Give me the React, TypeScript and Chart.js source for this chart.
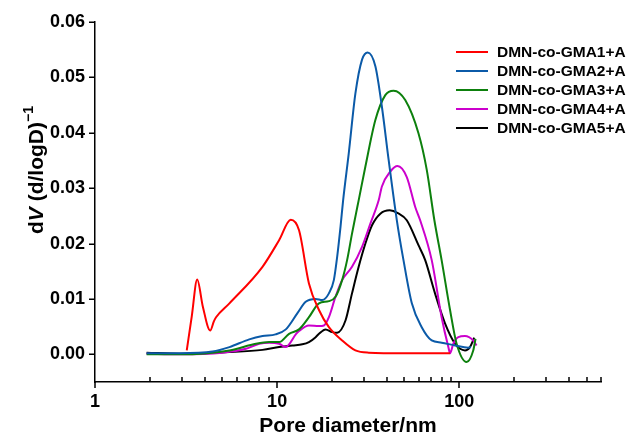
import React, { useEffect, useRef } from "react";
import { Chart, registerables } from "chart.js";

Chart.register(...registerables);

const FONT = "'Liberation Sans', Arial, Helvetica, sans-serif";

const SERIES_NAMES = ["DMN-co-GMA1+A", "DMN-co-GMA2+A", "DMN-co-GMA3+A", "DMN-co-GMA4+A", "DMN-co-GMA5+A"];
const SERIES_COLORS = ["#ff0000", "#0b5aa8", "#0d800d", "#cc00cc", "#000000"];

const GMA1_D = [3.19, 3.40, 3.64, 3.91, 4.29, 4.50, 4.62, 5.47, 8.31, 10.25, 11.88, 13.19, 14.95, 16.97, 19.24, 22.74, 26.9, 31.8, 50, 89];
const GMA1_V = [0.0007, 0.0069, 0.0135, 0.0086, 0.0043, 0.0060, 0.0067, 0.0092, 0.0158, 0.0206, 0.0243, 0.0224, 0.0128, 0.0080, 0.0049, 0.0025, 0.0007, 0.0003, 0.0002, 0.0002];

const GMA2_D = [1.92, 2.91, 4.42, 5.47, 7.03, 8.31, 9.8, 11.16, 12.9, 14.35, 16.27, 17.69, 19.24, 20.48, 21.36, 22.28, 23.03, 24.73, 26.9, 29.25, 31.42, 34.62, 37.6, 40.95, 45.42, 49.4, 54.9, 62.2, 70.6, 80, 94.8, 112, 116];
const GMA2_V = [0.0002, 0.0002, 0.0005, 0.0013, 0.0027, 0.0033, 0.0036, 0.0045, 0.0074, 0.0095, 0.0100, 0.0098, 0.0110, 0.0134, 0.0176, 0.0230, 0.0278, 0.0363, 0.0471, 0.0532, 0.0545, 0.0520, 0.0447, 0.0351, 0.0242, 0.0170, 0.0092, 0.0049, 0.0025, 0.0021, 0.0016, 0.0012, 0.0013];

const GMA3_D = [1.92, 2.91, 5.47, 7.65, 9.04, 10.25, 11.63, 13.19, 14.95, 16.97, 19.24, 20.92, 22.74, 24.22, 25.77, 27.1, 28.03, 30.52, 34.62, 39.25, 43.58, 50.5, 59.7, 66.3, 73.0, 80.0, 89.0, 96.7, 109.7, 119.3, 122.8];
const GMA3_V = [0.0000, 0.0000, 0.0007, 0.0019, 0.0022, 0.0022, 0.0037, 0.0045, 0.0067, 0.0092, 0.0096, 0.0104, 0.0134, 0.0170, 0.0218, 0.0254, 0.0278, 0.0339, 0.0423, 0.0468, 0.0476, 0.0459, 0.0399, 0.0333, 0.0242, 0.0170, 0.0080, 0.0019, -0.0014, 0.0007, 0.0028];

const GMA4_D = [1.92, 2.91, 5.0, 6.74, 7.97, 9.04, 10.25, 11.16, 11.63, 12.65, 13.19, 14.95, 16.97, 18.07, 19.24, 20.92, 22.74, 25.77, 29.25, 32.5, 36.1, 37.6, 41.8, 45.83, 51.5, 57.3, 61.0, 70.6, 80.0, 87.1, 89.0, 92.7, 98.8, 107.5, 119.3, 124.4];
const GMA4_V = [0.0001, 0.0000, 0.0003, 0.0010, 0.0019, 0.0021, 0.0019, 0.0013, 0.0018, 0.0036, 0.0042, 0.0052, 0.0051, 0.0052, 0.0067, 0.0104, 0.0134, 0.0158, 0.0194, 0.0236, 0.0278, 0.0303, 0.0330, 0.0340, 0.0320, 0.0266, 0.0242, 0.0170, 0.0067, 0.0013, 0.0002, 0.0019, 0.0031, 0.0033, 0.0025, 0.0016];

const GMA5_D = [1.92, 2.91, 5.47, 8.31, 10.25, 12.13, 13.75, 14.95, 16.27, 16.97, 18.45, 20.06, 21.36, 23.73, 25.77, 28.03, 30.52, 33.18, 36.86, 41.5, 46.0, 51.5, 59.7, 65.0, 73.6, 83.5, 94.8, 101, 107.5, 114.4, 120.8];
const GMA5_V = [0.0003, 0.0001, 0.0004, 0.0008, 0.0013, 0.0016, 0.0018, 0.0022, 0.0031, 0.0037, 0.0045, 0.0040, 0.0039, 0.0061, 0.0110, 0.0158, 0.0200, 0.0233, 0.0254, 0.0260, 0.0255, 0.0242, 0.0197, 0.0170, 0.0110, 0.0056, 0.0019, 0.0010, 0.0007, 0.0013, 0.0030];

const SERIES_D = [GMA1_D, GMA2_D, GMA3_D, GMA4_D, GMA5_D];
const SERIES_V = [GMA1_V, GMA2_V, GMA3_V, GMA4_V, GMA5_V];

const Y_TICKS = [0, 0.01, 0.02, 0.03, 0.04, 0.05, 0.06];
const X_LABEL_TICKS = [1, 10, 100];
const X_MINOR_TICKS = [2, 3, 4, 5, 6, 7, 8, 9, 20, 30, 40, 50, 60, 70, 80, 90, 200, 300, 400, 500, 600];
const X_TITLE = "Pore diameter/nm";

const decorPlugin = {
  id: "decor",
  afterDraw(chart: any) {
    const ctx = chart.ctx as CanvasRenderingContext2D;
    const xs = chart.scales.x;
    const ys = chart.scales.y;
    const area = chart.chartArea;
    ctx.save();
    ctx.strokeStyle = "#000";
    ctx.lineWidth = 1.5;
    ctx.beginPath();
    for (const v of Y_TICKS) {
      const py = Math.round(ys.getPixelForValue(v)) + 0.25;
      ctx.moveTo(area.left - 6, py);
      ctx.lineTo(area.left, py);
    }
    for (const v of X_LABEL_TICKS) {
      const px = Math.round(xs.getPixelForValue(v));
      ctx.moveTo(px, area.bottom);
      ctx.lineTo(px, area.bottom + 6);
    }
    for (const v of X_MINOR_TICKS) {
      const px = Math.round(xs.getPixelForValue(v));
      ctx.moveTo(px, area.bottom);
      ctx.lineTo(px, area.bottom - 5);
    }
    ctx.stroke();

    // x title
    ctx.fillStyle = "#000";
    ctx.font = `bold 21px ${FONT}`;
    ctx.textAlign = "center";
    ctx.textBaseline = "middle";
    ctx.fillText(X_TITLE, (area.left + area.right) / 2, 426);

    // y title (rotated)
    ctx.save();
    ctx.translate(37, 170);
    ctx.rotate(-Math.PI / 2);
    ctx.textAlign = "left";
    ctx.textBaseline = "middle";
    const mainFont = `bold 21px ${FONT}`;
    const italFont = `italic bold 21px ${FONT}`;
    const supFont = `bold 14px ${FONT}`;
    const parts: [string, string, number][] = [
      ["d", mainFont, 0],
      ["V", italFont, 0],
      [" (d/logD)", mainFont, 0],
      ["\u22121", supFont, -8],
    ];
    let total = 0;
    for (const [t, f] of parts) {
      ctx.font = f;
      total += ctx.measureText(t).width;
    }
    let cx = -total / 2;
    for (const [t, f, dy] of parts) {
      ctx.font = f;
      ctx.fillText(t, cx, dy);
      cx += ctx.measureText(t).width;
    }
    ctx.restore();

    // legend
    ctx.font = `bold 15.5px ${FONT}`;
    ctx.textAlign = "left";
    ctx.textBaseline = "middle";
    SERIES_NAMES.forEach((name, i) => {
      const y = 52 + i * 19;
      ctx.strokeStyle = SERIES_COLORS[i];
      ctx.lineWidth = 2;
      ctx.beginPath();
      ctx.moveTo(456, y);
      ctx.lineTo(488, y);
      ctx.stroke();
      ctx.fillStyle = "#000";
      ctx.fillText(name, 497, y + 1);
    });
    ctx.restore();
  },
};

export default function App() {
  const ref = useRef<HTMLCanvasElement | null>(null);
  useEffect(() => {
    if (!ref.current) return;
    const datasets = SERIES_NAMES.map((name, i) => ({
      label: name,
      data: SERIES_D[i].map((d, j) => ({ x: d, y: SERIES_V[i][j] })),
      borderColor: SERIES_COLORS[i],
      backgroundColor: SERIES_COLORS[i],
      borderWidth: 2,
      pointRadius: 0,
      cubicInterpolationMode: "monotone" as const,
      fill: false,
    }));
    const chart = new Chart(ref.current, {
      type: "line",
      data: { datasets },
      options: {
        animation: false,
        responsive: false,
        devicePixelRatio: 1,
        layout: { padding: { top: 22, right: 31, left: 0, bottom: 0 } },
        plugins: { legend: { display: false }, tooltip: { enabled: false } },
        scales: {
          x: {
            type: "logarithmic",
            min: 1,
            max: 600,
            grid: { display: false, drawTicks: false },
            border: { display: true, color: "#000", width: 1.5 },
            afterBuildTicks: (s: any) => {
              s.ticks = X_LABEL_TICKS.map((v) => ({ value: v }));
            },
            afterFit: (s: any) => {
              s.height = 55;
            },
            ticks: {
              autoSkip: false,
              maxRotation: 0,
              padding: 9,
              color: "#000",
              font: { family: FONT, size: 18, weight: "bold" },
              callback: (v: any) => String(v),
            },
          },
          y: {
            type: "linear",
            min: -0.005,
            max: 0.06,
            grid: { display: false, drawTicks: false },
            border: { display: true, color: "#000", width: 1.5 },
            afterBuildTicks: (s: any) => {
              s.ticks = Y_TICKS.map((v) => ({ value: v }));
            },
            afterFit: (s: any) => {
              s.width = 95;
            },
            ticks: {
              padding: 10,
              color: "#000",
              font: { family: FONT, size: 18, weight: "bold" },
              callback: (v: any) => Number(v).toFixed(2),
            },
          },
        },
      } as any,
      plugins: [decorPlugin],
    });
    return () => chart.destroy();
  }, []);
  return (
    <div style={{ position: "fixed", left: 0, top: 0, width: 632, height: 437, background: "#fff" }}>
      <canvas ref={ref} width={632} height={437} style={{ display: "block" }} />
    </div>
  );
}
